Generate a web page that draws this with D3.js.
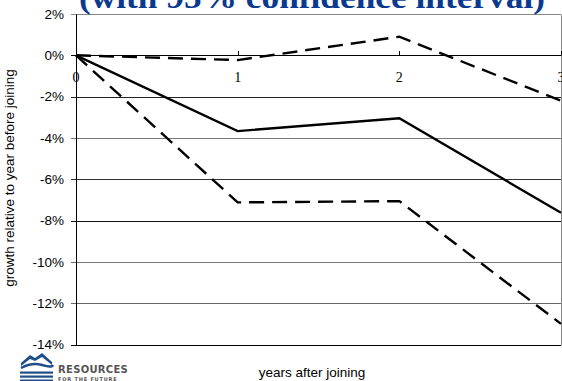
<!DOCTYPE html>
<html><head><meta charset="utf-8">
<script src="https://cdn.jsdelivr.net/npm/d3@7"></script>
<style>body{margin:0;background:#fff}svg{display:block}</style>
</head><body>
<svg id="c" width="562" height="381"></svg>
<script>
const years = [0, 1, 2, 3];
const estimate = [0, -3.67, -3.05, -7.62];
const upperCI = [0, -0.23, 0.9, -2.2];
const lowerCI = [0, -7.12, -7.06, -13.0];
const yTicks = [2, 0, -2, -4, -6, -8, -10, -12, -14];
const xTickLabels = ["0", "1", "2", "3"];

const svg = d3.select("#c");
const x = d3.scaleLinear().domain([0, 3]).range([76, 561]);
const y = d3.scaleLinear().domain([-14, 2]).range([344.5, 14]);

const gridColors = {2:"#888", 0:"#000", "-2":"#222", "-4":"#777", "-6":"#333", "-8":"#111", "-10":"#777", "-12":"#666", "-14":"#000"};
svg.append("g").selectAll("line").data(yTicks).join("line")
  .attr("x1", 71).attr("x2", 561)
  .attr("y1", d => Math.round(y(d)) + 0.5).attr("y2", d => Math.round(y(d)) + 0.5)
  .attr("stroke", d => gridColors[d]).attr("stroke-width", 1);
svg.append("line").attr("x1", 561.5).attr("x2", 561.5)
  .attr("y1", Math.round(y(2)) + 0.5).attr("y2", Math.round(y(-14)) + 0.5)
  .attr("stroke", "#888");
svg.append("line").attr("x1", 76.5).attr("x2", 76.5)
  .attr("y1", Math.round(y(2)) + 0.5).attr("y2", Math.round(y(-14)) + 0.5)
  .attr("stroke", "#000");
svg.append("g").selectAll("line").data(years.slice(1)).join("line")
  .attr("x1", d => Math.round(x(d)) + 0.5).attr("x2", d => Math.round(x(d)) + 0.5)
  .attr("y1", Math.round(y(0)) - 4).attr("y2", Math.round(y(0)) + 0.5)
  .attr("stroke", "#000");

svg.append("g").selectAll("text").data(yTicks).join("text")
  .attr("x", 64).attr("y", d => y(d)).attr("dy", "0.36em")
  .attr("text-anchor", "end")
  .attr("font-family", "Liberation Sans, Arial, sans-serif").attr("font-size", 13.5)
  .text(d => d + "%");

svg.append("g").selectAll("text").data(years).join("text")
  .attr("x", d => x(d)).attr("y", 82)
  .attr("text-anchor", "middle")
  .attr("font-family", "Liberation Serif, Times New Roman, serif").attr("font-size", 14)
  .text((d, i) => xTickLabels[i]);

const line = d3.line().x((d, i) => x(years[i])).y(d => y(d));
svg.append("path").datum(upperCI).attr("d", line).attr("fill", "none")
  .attr("stroke", "#000").attr("stroke-width", 2.4).attr("stroke-dasharray", "15,8");
svg.append("path").datum(lowerCI).attr("d", line).attr("fill", "none")
  .attr("stroke", "#000").attr("stroke-width", 2.4).attr("stroke-dasharray", "15,8");
svg.append("path").datum(estimate).attr("d", line).attr("fill", "none")
  .attr("stroke", "#000").attr("stroke-width", 2.4);

svg.append("text").attr("x", 312).attr("y", 8)
  .attr("text-anchor", "middle")
  .attr("font-family", "Liberation Serif, Times New Roman, serif").attr("font-weight", "bold")
  .attr("font-size", 32).attr("fill", "#0a3a8f")
  .attr("textLength", 466).attr("lengthAdjust", "spacingAndGlyphs")
  .text("(with 95% confidence interval)");

svg.append("text").attr("transform", "translate(14,178) rotate(-90)")
  .attr("text-anchor", "middle")
  .attr("font-family", "Liberation Sans, Arial, sans-serif").attr("font-size", 13.5)
  .text("growth relative to year before joining");
svg.append("text").attr("x", 312).attr("y", 377)
  .attr("text-anchor", "middle")
  .attr("font-family", "Liberation Sans, Arial, sans-serif").attr("font-size", 13.5)
  .text("years after joining");

const logo = svg.append("g").attr("transform", "translate(20,351)");
logo.append("path").attr("d", "M1,12 L10,4 L15,7 L22,2 L32,11 L32,14 L22,6 L15,10 L10,8 L1,15 Z").attr("fill", "#1f4f8a");
logo.append("path").attr("d", "M1,17 Q12,11 22,14 T33,14").attr("fill", "none").attr("stroke", "#1f4f8a").attr("stroke-width", 2.5);
[20.5, 24.5, 28.5].forEach(v => logo.append("rect").attr("x", 0).attr("y", v).attr("width", 33).attr("height", 2.2).attr("fill", "#1f4f8a"));
logo.append("text").attr("x", 38).attr("y", 22).attr("font-family", "DejaVu Sans, sans-serif").attr("font-weight", "bold")
  .attr("font-size", 10).attr("fill", "#555").attr("letter-spacing", 0.3).text("RESOURCES");
logo.append("text").attr("x", 38).attr("y", 29.5).attr("font-family", "DejaVu Sans, sans-serif").attr("font-weight", "bold")
  .attr("font-size", 5).attr("fill", "#555").attr("letter-spacing", 0.8).text("FOR THE FUTURE");
</script>
</body></html>
